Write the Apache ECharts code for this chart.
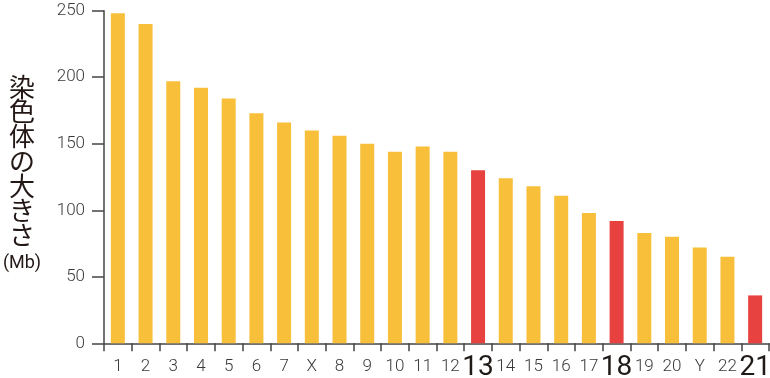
<!DOCTYPE html>
<html>
<head>
<meta charset="utf-8">
<script src="https://cdn.jsdelivr.net/npm/echarts@6/dist/echarts.min.js"></script>
<style>
    html, body { margin: 0; padding: 0; background: #fff; }
    #chart { width: 770px; height: 378px; }
</style>
</head>
<body>
<div id="chart"></div>
<script>
const chromosomes = ['1', '2', '3', '4', '5', '6', '7', 'X', '8', '9', '10', '11', '12', '13',
    '14', '15', '16', '17', '18', '19', '20', 'Y', '22', '21']
const sizes = [248, 240, 197, 192, 184, 173, 166, 160, 156, 150, 144, 148, 144, 130,
    124, 118, 111, 98, 92, 83, 80, 72, 65, 36]
const highlighted = ['13', '18', '21']
const yTicks = [0, 50, 100, 150, 200, 250]

const yellow = '#F8BF3B'
const red = '#E84240'

const myChart = echarts.init(document.getElementById('chart'))

const seriesData = chromosomes.map((name, index) => {
    return {
        value: sizes[index],
        itemStyle: {
            color: highlighted.includes(name) ? red : yellow
        }
    }
})

const option = {
    animation: false,
    grid: {
        left: 104,
        right: 1,
        top: 10.7,
        bottom: 34.7,
        outerBoundsMode: 'none'
    },
    xAxis: {
        type: 'category',
        data: chromosomes,
        axisLine: { lineStyle: { color: '#444', width: 1.5 } },
        axisTick: { show: true, length: 8, lineStyle: { color: '#444', width: 1.5 } },
        axisLabel: {
            interval: 0,
            margin: 15,
            fontFamily: 'Roboto',
            fontWeight: 300,
            fontSize: 17,
            lineHeight: 17,
            color: '#3a3a3a',
            formatter: value => highlighted.includes(value) ? '{big|' + value + '}' : value,
            rich: {
                big: {
                    fontFamily: 'Roboto',
                    fontWeight: 400,
                    fontSize: 28,
                    lineHeight: 20,
                    color: '#1f1a17'
                }
            }
        }
    },
    yAxis: {
        type: 'value',
        min: yTicks[0],
        max: yTicks[yTicks.length - 1],
        interval: 50,
        splitLine: { show: false },
        axisLine: { show: true, lineStyle: { color: '#444', width: 1.5 } },
        axisTick: { show: true, length: 12, lineStyle: { color: '#444', width: 1.5 } },
        axisLabel: {
            margin: 19,
            fontFamily: 'Roboto',
            fontWeight: 300,
            fontSize: 17,
            color: '#3a3a3a'
        },
        name: '{c|染}\n{c|色}\n{c|体}\n{c|の}\n{c|大}\n{c|き}\n{c|さ}\n{m|(Mb)}',
        nameLocation: 'middle',
        nameRotate: 0,
        nameGap: 82,
        nameTextStyle: {
            align: 'center',
            rich: {
                c: {
                    fontFamily: 'Noto Sans CJK JP',
                    fontSize: 26,
                    lineHeight: 24.7,
                    color: '#231815',
                    align: 'center'
                },
                m: {
                    fontFamily: 'Roboto',
                    fontSize: 18,
                    lineHeight: 32,
                    color: '#231815',
                    align: 'center'
                }
            }
        }
    },
    series: [
        {
            name: '染色体の大きさ',
            type: 'bar',
            barWidth: 14,
            data: seriesData
        }
    ]
}
myChart.setOption(option)
</script>
</body>
</html>
